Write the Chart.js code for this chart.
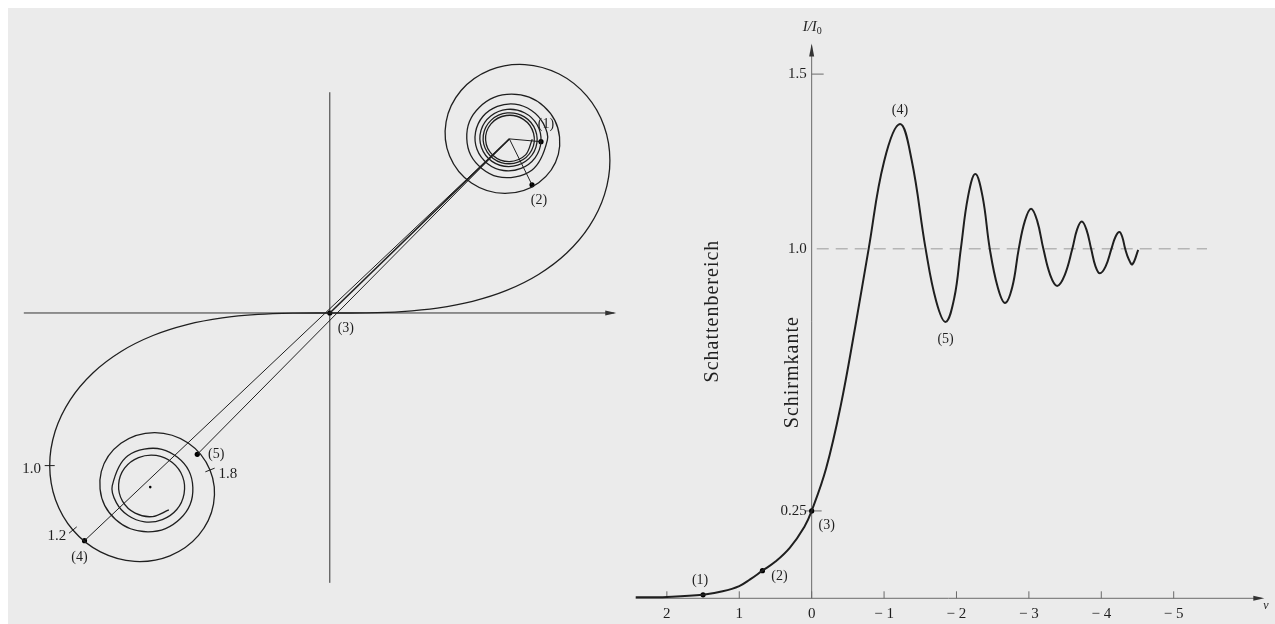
<!DOCTYPE html>
<html>
<head>
<meta charset="utf-8">
<script src="https://cdn.jsdelivr.net/npm/chart.js@4.4.0/dist/chart.umd.min.js"></script>
<style>
  html, body { margin: 0; padding: 0; background: #fff; }
  #sheet { position: absolute; left: 8px; top: 8px; width: 1267px; height: 616px; background: #ebebeb; }
  #spiral { position: absolute; left: 0; top: 0; }
  #edge { position: absolute; left: 620px; top: 0; }
</style>
</head>
<body>
<div id="sheet"></div>
<canvas id="spiral" width="640" height="624"></canvas>
<canvas id="edge" width="655" height="624"></canvas>
<script>
// Cornu spiral: Fresnel integrals C(v), S(v), tabulated for v >= 0
const fresnelV = [0, 0.1, 0.2, 0.3, 0.4, 0.5, 0.6, 0.7, 0.8, 0.9, 1.0, 1.1, 1.2, 1.3, 1.4, 1.5, 1.6, 1.7, 1.8, 1.9,
  2.0, 2.1, 2.2, 2.3, 2.4, 2.5, 2.6, 2.7, 2.8, 2.9, 3.0, 3.05, 3.1, 3.15, 3.2, 3.25, 3.3, 3.35, 3.4, 3.45,
  3.5, 3.55, 3.6, 3.65, 3.7, 3.75, 3.8, 3.85, 3.9, 3.95, 4.0, 4.05, 4.1, 4.15, 4.2, 4.25, 4.3, 4.35, 4.4, 4.45,
  4.5, 4.55, 4.6, 4.65, 4.7, 4.75, 4.8, 4.85, 4.9, 4.95, 5.0];
const fresnelC = [0, 0.0999, 0.1999, 0.2994, 0.3975, 0.4923, 0.5811, 0.6597, 0.7228, 0.7648, 0.7799, 0.7638, 0.7154, 0.6386, 0.5431, 0.4453, 0.3655, 0.3238, 0.3336, 0.3944,
  0.4882, 0.5816, 0.6363, 0.6266, 0.5550, 0.4574, 0.3889, 0.3925, 0.4675, 0.5624, 0.6058, 0.5944, 0.5616, 0.5155, 0.4664, 0.4261, 0.4058, 0.4098, 0.4385, 0.4834,
  0.5326, 0.5715, 0.5880, 0.5773, 0.5420, 0.4936, 0.4481, 0.4210, 0.4223, 0.4515, 0.4984, 0.5452, 0.5738, 0.5726, 0.5418, 0.4940, 0.4494, 0.4274, 0.4383, 0.4771,
  0.5261, 0.5620, 0.5673, 0.5391, 0.4914, 0.4488, 0.4338, 0.4546, 0.5002, 0.5450, 0.5637];
const fresnelS = [0, 0.0005, 0.0042, 0.0141, 0.0334, 0.0647, 0.1105, 0.1721, 0.2493, 0.3398, 0.4383, 0.5365, 0.6234, 0.6863, 0.7135, 0.6975, 0.6389, 0.5492, 0.4509, 0.3733,
  0.3434, 0.3743, 0.4557, 0.5532, 0.6197, 0.6192, 0.5500, 0.4529, 0.3915, 0.4101, 0.4963, 0.5445, 0.5818, 0.5999, 0.5933, 0.5643, 0.5192, 0.4700, 0.4296, 0.4092,
  0.4152, 0.4456, 0.4923, 0.5405, 0.5750, 0.5847, 0.5656, 0.5245, 0.4752, 0.4355, 0.4205, 0.4357, 0.4758, 0.5249, 0.5633, 0.5746, 0.5540, 0.5101, 0.4623, 0.4322,
  0.4342, 0.4674, 0.5162, 0.5562, 0.5672, 0.5433, 0.4968, 0.4526, 0.4350, 0.4541, 0.4992];
const lowerBranchEnd = 3.8;
const upperBranchEnd = 5.0;

// points (1)..(5) on the spiral, all joined to the upper eye
const spiralMarkLabels = ['(1)', '(2)', '(3)', '(4)', '(5)'];
const spiralMarkC = [0.588, 0.563, 0, -0.683, -0.369];
const spiralMarkS = [0.492, 0.368, 0, -0.654, -0.406];
const eyeUpper = [0.5, 0.5];
const eyeLower = [-0.5, -0.5];

// v-scale ticks on the lower loop
const spiralTickLabels = ['1.0', '1.2', '1.8'];
const spiralTickC = [-0.7799, -0.7154, -0.3336];
const spiralTickS = [-0.4383, -0.6234, -0.4509];
const spiralTickAngle = [0, -39.6, -21.6];

// intensity behind the straight edge, I/I0 against v
const edgeV = [2.43, 2.0, 1.5, 1.23, 1.0, 0.85, 0.68, 0.5, 0.3, 0.1, 0, -0.2, -0.4, -0.6, -0.787, -1.0, -1.22, -1.38,
  -1.574, -1.72, -1.85, -1.97, -2.06, -2.16, -2.26, -2.36, -2.46, -2.57, -2.67, -2.77, -2.86,
  -2.945, -3.03, -3.115, -3.2, -3.295, -3.39, -3.495, -3.6, -3.665, -3.73, -3.795, -3.86,
  -3.92, -3.98, -4.06, -4.14, -4.195, -4.25, -4.29, -4.33, -4.38, -4.43, -4.51];
const edgeI = [0.003, 0.004, 0.01, 0.02, 0.035, 0.054, 0.079, 0.105, 0.145, 0.205, 0.25, 0.372, 0.55, 0.775, 1.0, 1.25, 1.357, 1.255,
  1.0, 0.85, 0.791, 0.86, 1.0, 1.15, 1.214, 1.15, 1.0, 0.89, 0.845, 0.89, 1.0,
  1.08, 1.115, 1.08, 1.0, 0.925, 0.894, 0.925, 1.0, 1.055, 1.078, 1.055, 1.0,
  0.95, 0.93, 0.95, 1.0, 1.034, 1.048, 1.034, 1.0, 0.97, 0.956, 0.997];
const edgeMarkLabels = ['(1)', '(2)', '(3)', '(4)', '(5)'];
const edgeMarkV = [1.5, 0.68, 0, -1.22, -1.85];
const edgeMarkI = [0.01, 0.079, 0.25, 1.357, 0.791];
const edgeTickV = [2, 1, 0, -1, -2, -3, -4, -5];
const edgeTickLabels = ['2', '1', '0', '\u2212 1', '\u2212 2', '\u2212 3', '\u2212 4', '\u2212 5'];
const edgeLevelI = [1.5, 1.0, 0.25];
const edgeLevelLabels = ['1.5', '1.0', '0.25'];

const INK = '#1f1f1f';
const SERIF = '"Liberation Serif", "DejaVu Serif", serif';

function arrowHead(ctx, x, y, angle, len, half) {
  ctx.save();
  ctx.translate(x, y);
  ctx.rotate(angle);
  ctx.beginPath();
  ctx.moveTo(0, 0);
  ctx.lineTo(-len, -half);
  ctx.lineTo(-len, half);
  ctx.closePath();
  ctx.fill();
  ctx.restore();
}

function label(ctx, text, x, y, align, size) {
  ctx.font = (size || 14) + 'px ' + SERIF;
  ctx.textAlign = align || 'center';
  ctx.textBaseline = 'middle';
  ctx.fillText(text, x, y);
}

// ---------- left: Cornu spiral ----------
const spiralPoints = [];
for (let i = fresnelV.length - 1; i > 0; i--) {
  if (fresnelV[i] <= lowerBranchEnd) spiralPoints.push({ x: -fresnelC[i], y: -fresnelS[i] });
}
for (let i = 0; i < fresnelV.length; i++) {
  if (fresnelV[i] <= upperBranchEnd) spiralPoints.push({ x: fresnelC[i], y: fresnelS[i] });
}

const phasorSets = spiralMarkC.map((c, i) => ({
  data: [{ x: c, y: spiralMarkS[i] }, { x: eyeUpper[0], y: eyeUpper[1] }],
  showLine: true, borderColor: INK, borderWidth: i === 2 ? 1.6 : 1, pointRadius: 0, clip: false
}));

// axis extents, label offsets (px)
const spiralAxisC = [-0.852, 0.792];
const spiralAxisS = [-0.775, 0.634];
const spiralMarkOffset = [[5, -17], [7, 15], [16, 15], [-5, 17], [19, 0]];
const spiralTickOffset = [[-18, 3], [-16, 6], [18, 4]];

const spiralDecor = {
  id: 'spiralDecor',
  beforeDatasetsDraw(chart) {
    const ctx = chart.ctx, x = chart.scales.x, y = chart.scales.y;
    ctx.save();
    ctx.strokeStyle = '#333';
    ctx.fillStyle = '#333';
    ctx.lineWidth = 1;
    const y0 = y.getPixelForValue(0), x0 = x.getPixelForValue(0);
    ctx.beginPath();
    ctx.moveTo(x.getPixelForValue(spiralAxisC[0]), y0);
    ctx.lineTo(x.getPixelForValue(spiralAxisC[1]), y0);
    ctx.moveTo(x0, y.getPixelForValue(spiralAxisS[0]));
    ctx.lineTo(x0, y.getPixelForValue(spiralAxisS[1]));
    ctx.stroke();
    arrowHead(ctx, x.getPixelForValue(spiralAxisC[1]) + 2, y0, 0, 11, 2.5);
    ctx.restore();
  },
  afterDatasetsDraw(chart) {
    const ctx = chart.ctx, x = chart.scales.x, y = chart.scales.y;
    ctx.save();
    ctx.fillStyle = INK;
    spiralMarkLabels.forEach((t, i) => {
      label(ctx, t, x.getPixelForValue(spiralMarkC[i]) + spiralMarkOffset[i][0],
        y.getPixelForValue(spiralMarkS[i]) + spiralMarkOffset[i][1], 'center', 14);
    });
    spiralTickLabels.forEach((t, i) => {
      label(ctx, t, x.getPixelForValue(spiralTickC[i]) + spiralTickOffset[i][0],
        y.getPixelForValue(spiralTickS[i]) + spiralTickOffset[i][1], 'center', 15);
    });
    ctx.restore();
  }
};

new Chart(document.getElementById('spiral'), {
  type: 'scatter',
  data: {
    datasets: [
      {
        data: spiralPoints, showLine: true, tension: 0.35,
        borderColor: INK, borderWidth: 1.3, pointRadius: 0, clip: false
      },
      ...phasorSets,
      {
        data: spiralMarkC.map((c, i) => ({ x: c, y: spiralMarkS[i] })),
        pointRadius: 2.6, backgroundColor: '#000', borderWidth: 0
      },
      {
        data: [{ x: eyeLower[0], y: eyeLower[1] }],
        pointRadius: 1.3, backgroundColor: '#000', borderWidth: 0
      },
      {
        data: spiralTickC.map((c, i) => ({ x: c, y: spiralTickS[i] })),
        pointStyle: 'line', rotation: spiralTickAngle, pointRadius: 5,
        borderColor: INK, borderWidth: 1
      }
    ]
  },
  options: {
    responsive: false, animation: false, events: [], devicePixelRatio: 1,
    layout: { padding: 0 },
    plugins: { legend: { display: false }, tooltip: { enabled: false } },
    scales: {
      x: { type: 'linear', display: false, min: -0.9016, max: 0.847 },
      y: { type: 'linear', display: false, min: -0.876, max: 0.8817 }
    }
  },
  plugins: [spiralDecor]
});

// ---------- right: intensity at a straight edge ----------
const edgeAxisV = [2.43, -6.21];
const edgeAxisTop = 1.582;
const edgeDashV = [-0.07, -5.46];
const edgeMarkOffset = [[-3, -14], [17, 6], [15, 14], [0, -14], [0, 17]];
const edgeRegionText = ['Schattenbereich', 'Schirmkante'];
const edgeRegionV = [1.364, 0.259];
const edgeRegionI = [0.822, 0.647];

const edgeDecor = {
  id: 'edgeDecor',
  beforeDatasetsDraw(chart) {
    const ctx = chart.ctx, x = chart.scales.x, y = chart.scales.y;
    const y0 = y.getPixelForValue(0), x0 = x.getPixelForValue(0);
    ctx.save();
    ctx.strokeStyle = '#6a6a6a';
    ctx.fillStyle = '#333';
    ctx.lineWidth = 1;
    ctx.beginPath();
    ctx.moveTo(x.getPixelForValue(edgeAxisV[0]), y0);
    ctx.lineTo(x.getPixelForValue(edgeAxisV[1]), y0);
    ctx.moveTo(x0, y0);
    ctx.lineTo(x0, y.getPixelForValue(edgeAxisTop));
    edgeTickV.forEach(v => {
      const px = x.getPixelForValue(v);
      ctx.moveTo(px, y0);
      ctx.lineTo(px, y0 - 7);
    });
    // short marks at 1.5 and 0.25
    const y15 = y.getPixelForValue(edgeLevelI[0]);
    ctx.moveTo(x0, y15); ctx.lineTo(x0 + 12, y15);
    const y025 = y.getPixelForValue(edgeLevelI[2]);
    ctx.moveTo(x0 - 6, y025); ctx.lineTo(x0 + 10, y025);
    ctx.stroke();
    arrowHead(ctx, x.getPixelForValue(edgeAxisV[1]) + 3, y0, 0, 11, 2.5);
    arrowHead(ctx, x0, y.getPixelForValue(edgeAxisTop) - 2, -Math.PI / 2, 13, 2.5);

    // reference level I/I0 = 1
    ctx.strokeStyle = '#9a9a9a';
    ctx.setLineDash([12, 7]);
    const y1 = y.getPixelForValue(1);
    ctx.beginPath();
    ctx.moveTo(x.getPixelForValue(edgeDashV[0]), y1);
    ctx.lineTo(x.getPixelForValue(edgeDashV[1]), y1);
    ctx.stroke();
    ctx.restore();
  },
  afterDatasetsDraw(chart) {
    const ctx = chart.ctx, x = chart.scales.x, y = chart.scales.y;
    const y0 = y.getPixelForValue(0), x0 = x.getPixelForValue(0);
    ctx.save();
    ctx.fillStyle = INK;
    edgeTickV.forEach((v, i) => label(ctx, edgeTickLabels[i], x.getPixelForValue(v), y0 + 16, 'center', 15));
    edgeLevelI.forEach((v, i) => label(ctx, edgeLevelLabels[i], x0 - 5, y.getPixelForValue(v), 'right', 15));
    edgeMarkLabels.forEach((t, i) => {
      label(ctx, t, x.getPixelForValue(edgeMarkV[i]) + edgeMarkOffset[i][0],
        y.getPixelForValue(edgeMarkI[i]) + edgeMarkOffset[i][1], 'center', 14);
    });
    edgeRegionText.forEach((t, i) => {
      ctx.save();
      ctx.translate(x.getPixelForValue(edgeRegionV[i]), y.getPixelForValue(edgeRegionI[i]));
      ctx.rotate(-Math.PI / 2);
      ctx.letterSpacing = '1px';
      label(ctx, t, 0, 0, 'center', 20);
      ctx.restore();
    });
    // axis titles
    const yt = y.getPixelForValue(edgeAxisTop) - 18;
    ctx.font = 'italic 15px ' + SERIF;
    ctx.textAlign = 'left';
    ctx.textBaseline = 'middle';
    ctx.fillText('I/I', x0 - 9, yt);
    const w = ctx.measureText('I/I').width;
    ctx.font = '10px ' + SERIF;
    ctx.fillText('0', x0 - 9 + w, yt + 4);
    ctx.font = 'italic 12px ' + SERIF;
    ctx.fillText('v', x.getPixelForValue(edgeAxisV[1]) + 2, y0 + 8);
    ctx.restore();
  }
};

new Chart(document.getElementById('edge'), {
  type: 'line',
  data: {
    datasets: [
      {
        data: edgeV.map((v, i) => ({ x: v, y: edgeI[i] })),
        tension: 0.4,
        borderColor: INK, borderWidth: 2, pointRadius: 0, fill: false, clip: false
      },
      {
        data: edgeMarkV.map((v, i) => ({ x: v, y: edgeMarkI[i] })),
        showLine: false, pointRadius: [2.6, 2.6, 2.6, 0, 0],
        backgroundColor: '#000', borderWidth: 0
      }
    ]
  },
  options: {
    responsive: false, animation: false, events: [], devicePixelRatio: 1,
    layout: { padding: 0 },
    plugins: { legend: { display: false }, tooltip: { enabled: false } },
    scales: {
      x: { type: 'linear', display: false, reverse: true, min: -6.344, max: 2.592 },
      y: { type: 'linear', display: false, min: -0.0621, max: 1.7006 }
    }
  },
  plugins: [edgeDecor]
});
</script>
</body>
</html>
